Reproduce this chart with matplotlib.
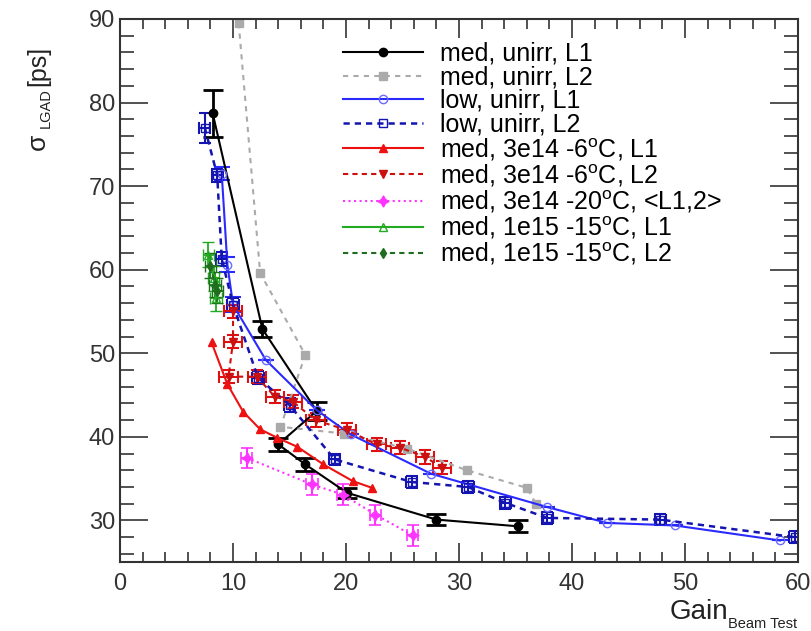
import numpy as np
import matplotlib
matplotlib.use('Agg')
import matplotlib.pyplot as plt
from matplotlib.ticker import MultipleLocator

plt.rcParams['font.family'] = ['Liberation Sans', 'DejaVu Sans']
plt.rcParams['mathtext.fontset'] = 'custom'
plt.rcParams['mathtext.rm'] = 'Liberation Sans'
plt.rcParams['mathtext.it'] = 'Liberation Sans:italic'

# med, unirr, L1
med_un_l1_x = [8.2, 12.6, 17.4, 14.0, 16.4, 20.1, 28.0, 35.2]
med_un_l1_y = [78.7, 52.9, 43.1, 39.1, 36.7, 33.3, 30.1, 29.3]
med_un_l1_e = [2.8, 1.0, 1.1, 0.8, 0.8, 0.6, 0.7, 0.7]

# med, unirr, L2
med_un_l2_x = [10.5, 12.4, 16.4, 14.2, 19.8, 25.4, 30.7, 36.0, 36.8]
med_un_l2_y = [89.5, 59.6, 49.8, 41.2, 40.4, 38.6, 36.0, 33.9, 32.0]

# low, unirr, L1
low_un_l1_x = [9.0, 9.5, 10.0, 12.9, 17.4, 20.4, 27.5, 37.8, 43.1, 49.1, 58.4]
low_un_l1_y = [71.5, 60.6, 55.8, 49.2, 43.2, 40.3, 35.6, 31.6, 29.7, 29.4, 27.6]
low_un_l1_e = [0.8, 0.9, 0.9, 0, 0, 0, 0, 0, 0, 0, 0]

# low, unirr, L2
low_un_l2_x = [7.5, 8.6, 9.0, 10.0, 12.2, 15.0, 19.0, 25.8, 30.8, 34.1, 37.8, 47.8, 59.7]
low_un_l2_y = [77.0, 71.3, 61.3, 55.8, 47.1, 43.8, 37.3, 34.6, 34.0, 32.1, 30.3, 30.1, 28.0]
low_un_l2_e = [1.8, 0.8, 0.8, 0.8, 0.8, 0.8, 0.7, 0.7, 0.7, 0.7, 0.7, 0.7, 0.7]

# med, 3e14 -6C, L1
irr_l1_x = [8.1, 9.5, 10.9, 12.4, 13.9, 15.7, 18.0, 20.6, 22.3]
irr_l1_y = [51.3, 46.3, 43.0, 40.9, 39.9, 38.8, 36.7, 34.7, 33.9]

# med, 3e14 -6C, L2
irr_l2_x = [10.0, 10.0, 9.6, 12.1, 13.7, 15.3, 17.3, 20.1, 22.7, 24.8, 27.0, 28.5]
irr_l2_y = [55.0, 51.4, 47.2, 47.2, 44.8, 44.2, 42.0, 40.8, 39.1, 38.7, 37.6, 36.3]

# med, 3e14 -20C, <L1,2>
cold_x = [11.2, 17.0, 19.7, 22.6, 25.9]
cold_y = [37.5, 34.3, 33.1, 30.7, 28.2]

# med, 1e15 -15C, L1 / L2
hi_l1_x = [7.8, 8.3, 8.5]
hi_l1_y = [61.8, 59.0, 56.6]
hi_l2_x = [8.0, 8.4, 8.6]
hi_l2_y = [60.5, 58.2, 57.5]

fig = plt.figure(figsize=(8.11, 6.31), dpi=100)
ax = fig.add_axes([0.148, 0.109, 0.836, 0.861])

# error bars
ax.errorbar(med_un_l1_x, med_un_l1_y, yerr=med_un_l1_e, fmt='none', ecolor='black', elinewidth=2, capsize=7, capthick=2)
ax.errorbar(low_un_l1_x, low_un_l1_y, yerr=low_un_l1_e, fmt='none', ecolor='#2a2aff', elinewidth=1.5, capsize=6, capthick=1.5)
ax.errorbar(low_un_l2_x, low_un_l2_y, yerr=low_un_l2_e, xerr=0.5, fmt='none', ecolor='#1414b0', elinewidth=1.5, capsize=4, capthick=1.5)
ax.errorbar(irr_l2_x, irr_l2_y, yerr=0.8, xerr=0.8, fmt='none', ecolor='#dd1111', elinewidth=1.5, capsize=4, capthick=1.5)
ax.errorbar(cold_x, cold_y, yerr=1.2, xerr=0.5, fmt='none', ecolor='#ff33ff', elinewidth=1.5, capsize=4, capthick=1.2, ls=':')
ax.errorbar(hi_l1_x, hi_l1_y, yerr=1.5, xerr=0.5, fmt='none', ecolor='#22aa22', elinewidth=1.3, capsize=4)
ax.errorbar(hi_l2_x, hi_l2_y, yerr=1.5, xerr=0.5, fmt='none', ecolor='#1e6e1e', elinewidth=1.3, capsize=4)

# lines
ax.plot(med_un_l1_x, med_un_l1_y, '-', color='black', lw=1.5, marker='o', ms=6, label='med, unirr, L1')
ax.plot(med_un_l2_x, med_un_l2_y, '--', color='#aaaaaa', lw=1.5, dashes=(2.5, 2.5), marker='s', ms=6, label='med, unirr, L2')
ax.plot(low_un_l1_x, low_un_l1_y, '-', color='#2a2aff', lw=1.5, marker='o', ms=6, mfc='none', mec='#6a6aff', label='low, unirr, L1')
ax.plot(low_un_l2_x, low_un_l2_y, '--', color='#1414b0', lw=1.8, dashes=(2.5, 2), marker='s', ms=6, mfc='none', label='low, unirr, L2')
ax.plot(irr_l1_x, irr_l1_y, '-', color='#ee1111', lw=1.5, marker='^', ms=6, label='med, 3e14 -6$^{\\rm o}$C, L1')
ax.plot(irr_l2_x, irr_l2_y, '--', color='#cc1010', lw=1.5, dashes=(2.5, 2), marker='v', ms=6, label='med, 3e14 -6$^{\\rm o}$C, L2')
ax.plot(cold_x, cold_y, ':', color='#ff33ff', lw=1.5, marker=(4, 1, 0), ms=8, label='med, 3e14 -20$^{\\rm o}$C, <L1,2>')
ax.plot(hi_l1_x, hi_l1_y, '-', color='#22aa22', lw=1.5, marker='^', ms=6, mfc='none', label='med, 1e15 -15$^{\\rm o}$C, L1')
ax.plot(hi_l2_x, hi_l2_y, '--', color='#1e6e1e', lw=1.5, dashes=(2.5, 2), marker='d', ms=5, label='med, 1e15 -15$^{\\rm o}$C, L2')

ax.set_xlim(0, 60)
ax.set_ylim(25, 90)
ax.xaxis.set_major_locator(MultipleLocator(10))
ax.xaxis.set_minor_locator(MultipleLocator(2))
ax.yaxis.set_major_locator(MultipleLocator(10))
ax.yaxis.set_minor_locator(MultipleLocator(2))
ax.tick_params(which='both', direction='in', top=True, right=True, labelsize=17, width=1.2, colors='#333333')
ax.tick_params(which='major', length=20)
ax.tick_params(which='minor', length=10)
ax.tick_params(axis='x', which='major', length=14, pad=8)
ax.tick_params(axis='x', which='minor', length=7)
for s in ax.spines.values():
    s.set_linewidth(1.5)
    s.set_color('#333333')

# axis titles, ROOT style: large main text, small subscript
fig.text(38 / 811, 1 - 150 / 631, 'σ', fontsize=19, rotation=90, ha='center', va='bottom', color='#222222')
fig.text(46 / 811, 1 - 128 / 631, 'LGAD', fontsize=10.5, rotation=90, ha='center', va='bottom', color='#222222')
fig.text(38 / 811, 1 - 86 / 631, '[ps]', fontsize=18, rotation=90, ha='center', va='bottom', color='#222222')
fig.text(728 / 811, 1 - 619 / 631, 'Gain', fontsize=20, ha='right', va='baseline', color='#222222')
fig.text(797 / 811, 1 - 628 / 631, 'Beam Test', fontsize=10.5, ha='right', va='baseline', color='#222222')

ax.legend(loc='upper left', bbox_to_anchor=(0.314, 0.976), frameon=False, fontsize=18,
          handlelength=3.2, handletextpad=0.68, labelspacing=-0.02, borderaxespad=0)

fig.savefig('out.png', dpi=100)
